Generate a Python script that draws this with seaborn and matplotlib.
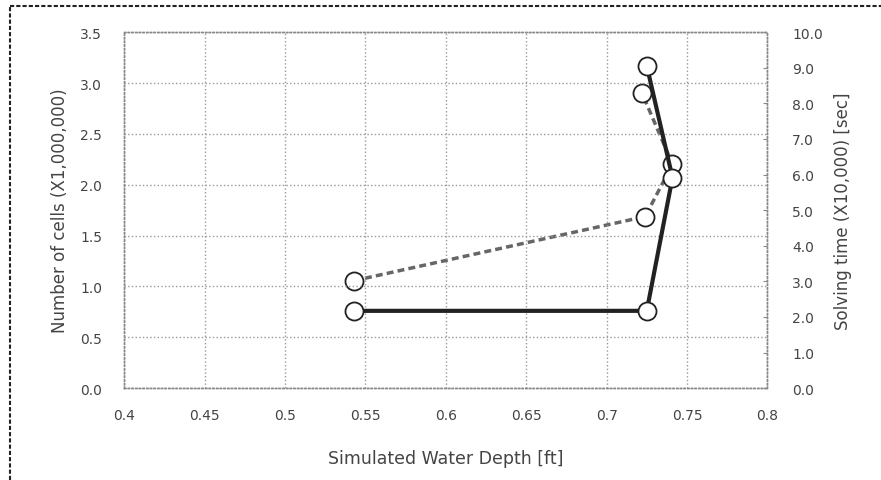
import numpy as np
import pandas as pd
import seaborn as sns
import matplotlib.pyplot as plt
from matplotlib.lines import Line2D

# values
depth_cells = [0.543, 0.725, 0.741, 0.725]
num_cells = [0.76, 0.76, 2.07, 3.17]          # X1,000,000

depth_time = [0.543, 0.724, 0.741, 0.722]
solve_time = [3.02, 4.82, 6.29, 8.29]         # X10,000 sec

x_ticks = [0.4, 0.45, 0.5, 0.55, 0.6, 0.65, 0.7, 0.75, 0.8]
x_tick_labels = ['0.4', '0.45', '0.5', '0.55', '0.6', '0.65', '0.7', '0.75', '0.8']
left_ticks = [0.0, 0.5, 1.0, 1.5, 2.0, 2.5, 3.0, 3.5]
right_ticks = [0, 1, 2, 3, 4, 5, 6, 7, 8, 9, 10]

df_cells = pd.DataFrame({'depth': depth_cells, 'cells': num_cells})
df_time = pd.DataFrame({'depth': depth_time, 'time': solve_time})

sns.set_style('white')
plt.rcParams['font.family'] = ['DejaVu Sans']
txt = '#444444'

fig = plt.figure(figsize=(8.81, 4.81), dpi=100)
ax = fig.add_axes([0.141, 0.191, 0.730, 0.740])
ax2 = ax.twinx()

sns.lineplot(data=df_time, x='depth', y='time', ax=ax2, sort=False,
             estimator=None, color='#666666', lw=2.5, marker='o', markersize=13,
             markerfacecolor='white', markeredgecolor='#222222',
             markeredgewidth=1.3)
ax2.lines[0].set_dashes([2.0, 1.2])

sns.lineplot(data=df_cells, x='depth', y='cells', ax=ax, sort=False,
             estimator=None, color='#222222', lw=3, marker='o', markersize=13,
             markerfacecolor='white', markeredgecolor='#222222',
             markeredgewidth=1.3)

ax.set_zorder(ax2.get_zorder() + 1)
ax.patch.set_visible(False)

ax.set_xlim(0.4, 0.8)
ax.set_ylim(0, 3.5)
ax2.set_ylim(0, 10)
ax.set_xticks(x_ticks)
ax.set_xticklabels(x_tick_labels)
ax.set_yticks(left_ticks)
ax.set_yticklabels([f'{v:.1f}' for v in left_ticks])
ax2.set_yticks(right_ticks)
ax2.set_yticklabels([f'{v:.1f}' for v in right_ticks])

ax.grid(True, color='#999999', ls=':', lw=1)
ax2.grid(False)
for a in (ax, ax2):
    for s in a.spines.values():
        s.set_linestyle(':')
        s.set_color('#888888')
        s.set_linewidth(1)

ax.tick_params(axis='both', length=0, labelsize=10, labelcolor=txt)
ax.tick_params(axis='y', pad=16)
ax.tick_params(axis='x', pad=14)
ax2.tick_params(axis='y', direction='in', length=3, color='#888888',
                labelsize=10, labelcolor=txt, pad=18)

ax.set_xlabel('Simulated Water Depth [ft]', fontsize=12.5, color=txt, labelpad=20)
ax.set_ylabel('Number of cells (X1,000,000)', fontsize=12, color=txt, labelpad=8)
ax2.set_ylabel('Solving time (X10,000) [sec]', fontsize=12, color=txt, labelpad=8)

# outer frame lines (top and left)
fig.add_artist(Line2D([0.011, 1.0], [0.986, 0.986], transform=fig.transFigure,
                      color='#222222', lw=1.5, ls='--', dashes=(2, 1)))
fig.add_artist(Line2D([0.011, 0.011], [0.0, 0.986], transform=fig.transFigure,
                      color='#222222', lw=1.5, ls='--', dashes=(2, 1)))

fig.savefig('out.png', dpi=100)
